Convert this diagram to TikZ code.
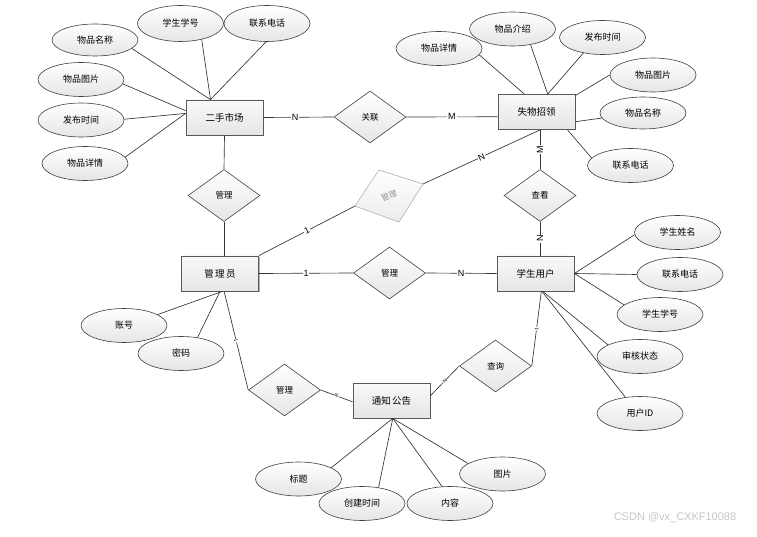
\documentclass[tikz,border=0pt]{standalone}
\usepackage{fontspec}
\setmainfont{Liberation Sans}
\newfontfamily\cjk{Noto Sans CJK SC}
\usetikzlibrary{shapes.geometric,shadows}
\begin{document}
\begin{tikzpicture}[x=1pt,y=-1pt,
  attr/.style={ellipse, draw=black!75, line width=0.6pt, top color=white, bottom color=gray!20,
    minimum width=86pt, minimum height=34pt, inner sep=0pt, font=\cjk\fontsize{9}{10}\selectfont},
  ent/.style={rectangle, draw=black!65, line width=0.8pt, top color=gray!5, bottom color=gray!20,
    minimum width=77pt, minimum height=35pt, inner sep=0pt, font=\cjk\fontsize{9.5}{11}\selectfont,
    drop shadow={shadow xshift=1pt, shadow yshift=-1pt, fill=gray!60, opacity=1}},
  rel/.style={diamond, draw=black!75, line width=0.6pt, top color=white, bottom color=gray!20,
    minimum width=72pt, minimum height=52pt, inner sep=0pt, font=\cjk\fontsize{8.5}{10}\selectfont},
  link/.style={draw=black!80, line width=0.65pt},
  card/.style={font=\fontsize{9}{10}\selectfont, fill=white, inner sep=0.8pt},
  tick/.style={font=\fontsize{5}{5}\selectfont, fill=white, inner sep=0.3pt, sloped}
]
\fill[white] (0,0) rectangle (757,537);
\useasboundingbox (0,0) rectangle (757,537);

% entities
\node[ent] (ershou) at (224.5,117.5) {二手市场};
\node[ent] (lost) at (536.5,112) {失物招领};
\node[ent] (admin) at (220,273.5) {管\hspace{1.5pt}理\hspace{1.5pt}员};
\node[ent] (stu) at (535.5,273.5) {学生用户};
\node[ent] (tz) at (391.5,400.5) {通知\hspace{1.5pt}公告};

% relationships
\node[rel] (r1) at (224,195.5) {管理};
\node[rel] (gl) at (370,117) {关联};
\node[rel] (ck) at (540,195.5) {查看};
\node[rel] (r2) at (389.5,273) {管理};
\node[rel] (r3) at (284.5,390) {管理};
\node[rel] (cx) at (495.5,366) {查询};

% grey skewed diamond
\coordinate (gT) at (379,170);
\coordinate (gR) at (423,184);
\coordinate (gB) at (399,222);
\coordinate (gL) at (355,206);
\filldraw[draw=gray!50, line width=0.6pt, top color=white, bottom color=gray!15] (gT) -- (gR) -- (gB) -- (gL) -- cycle;
\node[rotate=20, text=gray!85, inner sep=0pt, font=\cjk\fontsize{8}{9}\selectfont] (gtext) at (389,196) {管理};

% attributes: 二手市场
\node[attr, minimum height=36pt] (a1) at (180.5,23.5) {学生学号};
\node[attr, minimum height=36pt] (a2) at (267,23.5) {联系电话};
\node[attr, minimum height=32pt] (a3) at (95,40) {物品名称};
\node[attr] (a4) at (81,79.5) {物品图片};
\node[attr] (a5) at (81,120) {发布时间};
\node[attr] (a6) at (85,163.5) {物品详情};
\draw[link] (a1.-37) -- (ershou.128);
\draw[link] (a2.-93) -- (ershou.128);
\draw[link] (a3.-13) -- (ershou.128);
\draw[link] (a4.-6) -- (ershou.170);
\draw[link] (a5.1) -- (ershou.174);
\draw[link] (a6.9) -- (ershou.174);

% attributes: 失物招领
\node[attr] (b1) at (512.5,29) {物品介绍};
\node[attr] (b2) at (439,48.5) {物品详情};
\node[attr] (b3) at (602.5,37.5) {发布时间};
\node[attr] (b4) at (653,75) {物品图片};
\node[attr, minimum height=32pt] (b5) at (643,113) {物品名称};
\node[attr] (b6) at (630.5,165.5) {联系电话};
\draw[link] (b2.-9) -- (lost.124);
\draw[link] (b1.-41) -- (lost.58);
\draw[link] (b3.-141) -- (lost.58);
\draw[link] (b4.180) -- (lost.23);
\draw[link] (b5.187) -- (lost.-14);
\draw[link] (b6.169) -- (lost.-30);

% attributes: 学生用户
\node[attr] (c1) at (677.5,232.5) {学生姓名};
\node[attr] (c2) at (680,274.5) {联系电话};
\node[attr] (c3) at (660,314.5) {学生学号};
\node[attr] (c4) at (640,356.5) {审核状态};
\node[attr] (c5) at (640,413.5) {用户ID};
\draw[link] (c1.183) -- (stu.east);
\draw[link] (c2.180) -- (stu.east);
\draw[link] (c3.165) -- (stu.east);
\draw[link] (c4.160) -- (stu.-68);
\draw[link] (c5.132) -- (stu.-70);

% attributes: 管理员
\node[attr] (d1) at (124,325.5) {账号};
\node[attr] (d2) at (181,353.5) {密码};
\draw[link] (d1.18) -- (admin.-83);
\draw[link] (d2.44) -- (admin.-90);

% attributes: 通知公告
\node[attr] (e1) at (298.5,479) {标题};
\node[attr] (e2) at (362,503.5) {创建时间};
\node[attr] (e3) at (450,503.5) {内容};
\node[attr] (e4) at (502.5,474) {图片};
\draw[link] (e1.19) -- (tz.-86);
\draw[link] (e2.44) -- (tz.-86);
\draw[link] (e3.115) -- (tz.-86);
\draw[link] (e4.163) -- (tz.-86);

% relationship connectors
\draw[link] (ershou.east) -- node[card, pos=0.45]{N} (gl.west);
\draw[link] (gl.east) -- node[card]{M} (lost.187);
\draw[link] (ershou.south) -- (r1.north);
\draw[link] (r1.south) -- (r1.south |- admin.north);
\draw[link] (ck.north) -- node[card, rotate=90]{M} (ck.north |- lost.south);
\draw[link] (ck.south) -- node[card, rotate=90]{N} (ck.south |- stu.north);
\draw[link] (ck.north |- lost.south) -- node[card, sloped]{N} (gR);
\draw[link] (gL) -- node[card, sloped]{1} (admin.north east);
\draw[link] (admin.east) -- node[card]{1} (r2.west);
\draw[link] (r2.east) -- node[card]{N} (stu.west);
\draw[link] (admin.-77) -- node[tick]{1} (r3.west);
\draw[link] (r3.east) -- node[tick]{N} (tz.182);
\draw[link] (tz.7) -- node[tick]{N} (cx.west);
\draw[link] (cx.east) -- node[tick]{1} (stu.-72);

% watermark
\node[font=\fontsize{11}{12}\selectfont, text=gray!45] (wm) at (675,517.5) {CSDN @vx\_CXKF10088};
\end{tikzpicture}
\end{document}
